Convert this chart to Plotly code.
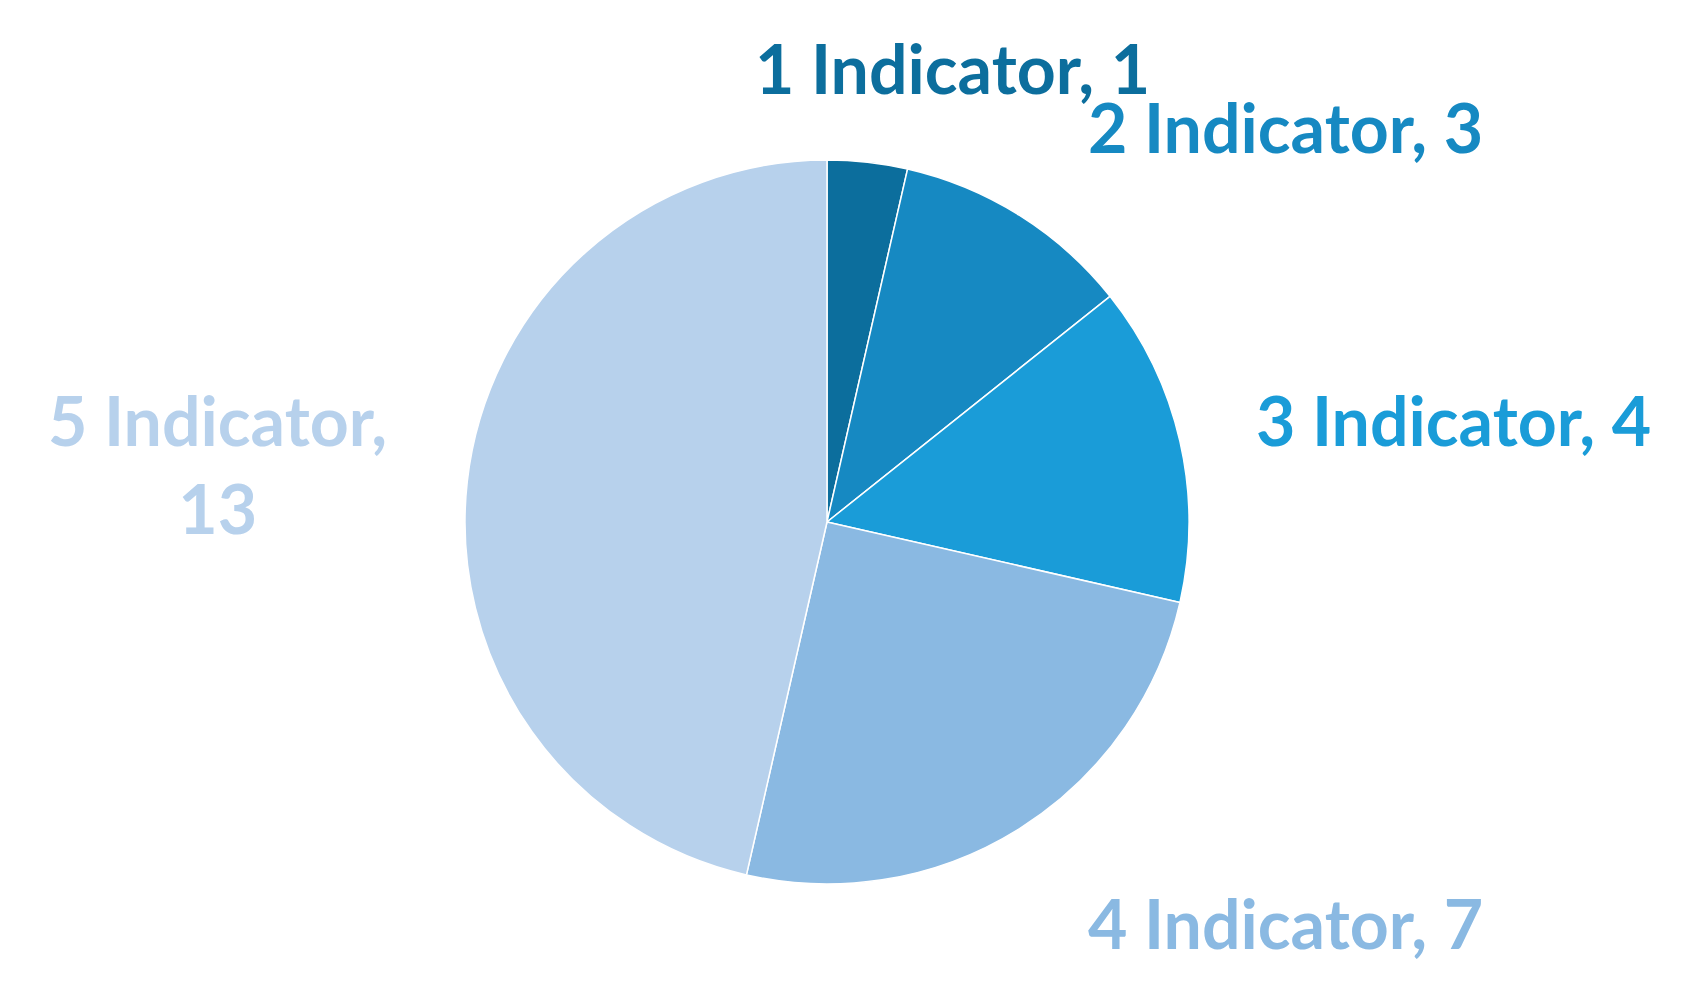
import plotly.graph_objects as go

labels = ["1 Indicator", "2 Indicator", "3 Indicator", "4 Indicator", "5 Indicator"]
values = [1, 3, 4, 7, 13]
colors = ["#0c6e9d", "#1689c2", "#1a9cd8", "#8ab9e2", "#b7d1ec"]
label_text = ["1 Indicator, 1", "2 Indicator, 3", "3 Indicator, 4", "4 Indicator, 7", "5 Indicator,<br>13"]
label_pos = [(944, 60), (1277, 119), (1445, 411), (1277, 914), (209, 455)]

W, H = 1688, 982
cx, cy, r = 819, 514, 362

fig = go.Figure()
fig.add_trace(go.Pie(
    labels=labels, values=values, sort=False, direction="clockwise", rotation=0,
    marker=dict(colors=colors, line=dict(color="white", width=1.5)),
    textinfo="none", hoverinfo="label+value", showlegend=False,
    domain=dict(x=[(cx - r) / W, (cx + r) / W], y=[(H - cy - r) / H, (H - cy + r) / H]),
))

for t, (x, y), c in zip(label_text, label_pos, colors):
    fig.add_annotation(x=x / W, y=1 - y / H, xref="paper", yref="paper", text=t,
                       showarrow=False, font=dict(size=68, color=c, family="Lato", weight="bold"),
                       xanchor="center", yanchor="middle")

fig.update_layout(width=W, height=H, margin=dict(l=0, r=0, t=0, b=0),
                  paper_bgcolor="white", plot_bgcolor="white")
fig.write_html("out.html")
